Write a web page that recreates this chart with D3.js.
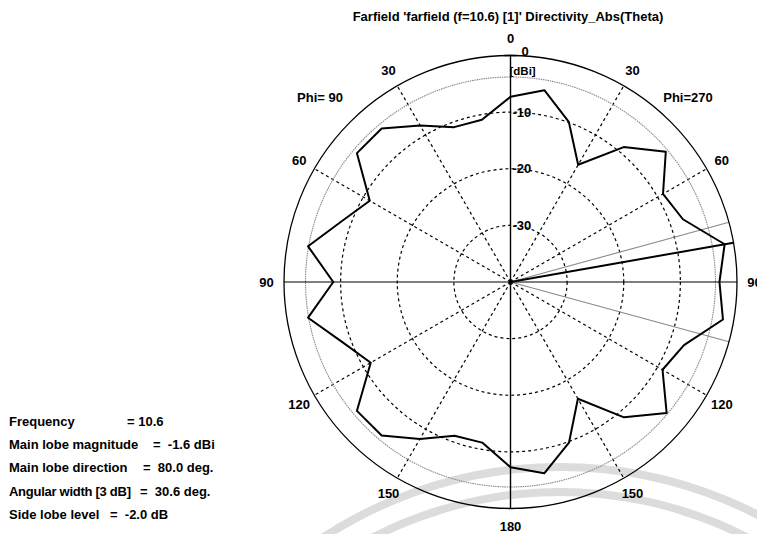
<!DOCTYPE html>
<html>
<head>
<meta charset="utf-8">
<script src="https://cdn.jsdelivr.net/npm/d3@7"></script>
<style>
    body { margin: 0; background: #fff; }
    svg { display: block; }
    text { font-family: "Liberation Sans", Arial, sans-serif; font-weight: bold; fill: #000; }
</style>
</head>
<body>
<svg id="farfield-plot" width="757" height="534"></svg>
<script>
// Data
const titleText = "Farfield 'farfield (f=10.6) [1]' Directivity_Abs(Theta)";
const thetaDeg = [0, 10, 20, 30, 40, 50, 60, 70, 80, 90, 100, 110, 120, 130, 140, 150, 160, 170, 180];
// Phi=270 cut, drawn on the right half
const phi270 = [-7.3, -5.6, -9.9, -16.1, -8.9, -4.2, -8.9, -7.6, -1.6, -3.1, -1.9, -7.4, -9.0, -4.0, -8.8, -16.2, -9.8, -5.7, -7.3];
// Phi=90 cut, drawn on the left half
const phi90 = [-7.3, -10.9, -10.9, -8.1, -4.6, -4.6, -11.3, -8.4, -3.7, -8.7, -3.7, -8.6, -11.5, -4.6, -4.6, -8.0, -11.1, -11.2, -7.3];
const radialTicks = [-10, -20, -30];
const angleTicks = [0, 30, 60, 90, 120, 150, 180];
const mainLobeDir = 80;
const beamEdges = [74.7, 105.3];
const beamLevel = -3.8;
const infoLabels = ["Frequency", "Main lobe magnitude", "Main lobe direction", "Angular width [3 dB]", "Side lobe level"];
const infoValues = ["= 10.6", "=  -1.6 dBi", "=  80.0 deg.", "=  30.6 deg.", "=  -2.0 dB"];

const cx = 510.5, cy = 282, R = 226.5;
const rad = Math.PI / 180;

var svg = d3.select('#farfield-plot');

//Faint watermark rings behind everything
var mark = svg.append("g").attr("transform", "translate(560,900)");
[[429, 437], [404, 412]].forEach(function(b) {
    mark.append("path")
        .attr("d", d3.arc().innerRadius(b[0]).outerRadius(b[1]).startAngle(0).endAngle(2 * Math.PI)())
        .attr("fill", "#dcdcdc");
});

//Radial scale: 0 dB on the outer circle, -40 dB at the centre
var r = d3.scaleLinear().domain([-40, 0]).range([0, R]);

var plot = svg.append("g").attr("transform", "translate(" + cx + "," + cy + ")");

//Dashed level circles
plot.selectAll("circle.grid")
    .data(radialTicks)
    .enter().append("circle")
    .attr("class", "grid")
    .attr("r", function(d) { return r(d); })
    .attr("fill", "none")
    .attr("stroke", "#000")
    .attr("stroke-width", 1.2)
    .attr("stroke-dasharray", "3,3");

//Dashed spokes every 30 deg (not the axes)
var spokes = [];
[30, 60, 120, 150].forEach(function(a) { spokes.push(a); spokes.push(-a); });
plot.selectAll("line.spoke")
    .data(spokes)
    .enter().append("line")
    .attr("class", "spoke")
    .attr("x1", 0).attr("y1", 0)
    .attr("x2", function(d) { return r(0) * Math.sin(d * rad); })
    .attr("y2", function(d) { return -r(0) * Math.cos(d * rad); })
    .attr("stroke", "#000")
    .attr("stroke-width", 1.2)
    .attr("stroke-dasharray", "3,3");

//3 dB level circle and beam width lines in grey
plot.append("circle")
    .attr("r", r(beamLevel))
    .attr("fill", "none")
    .attr("stroke", "#8a8a8a")
    .attr("stroke-width", 1.1)
    .attr("stroke-dasharray", "1.5,0.8");
plot.selectAll("line.beam")
    .data(beamEdges)
    .enter().append("line")
    .attr("class", "beam")
    .attr("x1", 0).attr("y1", 0)
    .attr("x2", function(d) { return r(0) * Math.sin(d * rad); })
    .attr("y2", function(d) { return -r(0) * Math.cos(d * rad); })
    .attr("stroke", "#8a8a8a")
    .attr("stroke-width", 1.1);

//Outer circle and axes
plot.append("circle")
    .attr("r", r(0))
    .attr("fill", "none")
    .attr("stroke", "#000")
    .attr("stroke-width", 1.3);
plot.append("line")
    .attr("x1", 0).attr("y1", -r(0)).attr("x2", 0).attr("y2", r(0))
    .attr("stroke", "#000").attr("stroke-width", 1.4);
plot.append("line")
    .attr("x1", -r(0)).attr("y1", 0).attr("x2", r(0)).attr("y2", 0)
    .attr("stroke", "#000").attr("stroke-width", 1.2);
plot.append("line")
    .attr("x1", -6).attr("y1", -r(0)).attr("x2", 6).attr("y2", -r(0))
    .attr("stroke", "#000").attr("stroke-width", 1.5);

//Main lobe direction
plot.append("line")
    .attr("x1", 0).attr("y1", 0)
    .attr("x2", r(0) * Math.sin(mainLobeDir * rad))
    .attr("y2", -r(0) * Math.cos(mainLobeDir * rad))
    .attr("stroke", "#000")
    .attr("stroke-width", 2);

//Directivity curves
var right = d3.lineRadial()
    .angle(function(d, i) { return thetaDeg[i] * rad; })
    .radius(function(d) { return r(d); });
var left = d3.lineRadial()
    .angle(function(d, i) { return -thetaDeg[i] * rad; })
    .radius(function(d) { return r(d); });
[[phi270, right], [phi90, left]].forEach(function(s) {
    plot.append("path")
        .attr("d", s[1](s[0]))
        .attr("fill", "none")
        .attr("stroke", "#000")
        .attr("stroke-width", 2)
        .attr("stroke-linejoin", "round");
});

//Angle labels on both halves
var angLabels = [];
angleTicks.forEach(function(a) {
    angLabels.push(a);
    if (a > 0 && a < 180) angLabels.push(-a);
});
plot.selectAll("text.ang")
    .data(angLabels)
    .enter().append("text")
    .attr("class", "ang")
    .attr("x", function(d) { return 244 * Math.sin(d * rad); })
    .attr("y", function(d) { return -244 * Math.cos(d * rad); })
    .attr("dy", "0.35em")
    .attr("text-anchor", "middle")
    .attr("font-size", 13)
    .text(function(d) { return Math.abs(d); });

//Radial level labels
plot.selectAll("text.lvl")
    .data([0].concat(radialTicks))
    .enter().append("text")
    .attr("class", "lvl")
    .attr("x", function(d) { return d == 0 ? 11 : 2; })
    .attr("y", function(d) { return -r(d) + (d == 0 ? -4 : 0); })
    .attr("dy", "0.35em")
    .attr("font-size", 13)
    .text(function(d) { return d; });
plot.append("text")
    .attr("x", -1).attr("y", -r(0) + 19)
    .attr("font-size", 11.5)
    .text("[dBi]");

//Cut names
svg.append("text").attr("x", 320).attr("y", 102).attr("text-anchor", "middle")
    .attr("font-size", 13).text("Phi= 90");
svg.append("text").attr("x", 688).attr("y", 102).attr("text-anchor", "middle")
    .attr("font-size", 13).text("Phi=270");

//Title
svg.append("text")
    .attr("x", 508).attr("y", 21)
    .attr("text-anchor", "middle")
    .attr("font-size", 13)
    .text(titleText);

//Result summary, bottom left
var valueX = [127, 153, 143, 140, 110];
var info = svg.append("g");
infoLabels.forEach(function(t, i) {
    var y = 421 + i * 23.4;
    info.append("text").attr("x", 9).attr("y", y).attr("dy", "0.35em")
        .attr("font-size", 13).attr("textLength", i == 3 ? 122 : null).text(t);
    info.append("text").attr("x", valueX[i]).attr("y", y).attr("dy", "0.35em")
        .attr("font-size", 13).style("white-space", "pre").text(infoValues[i]);
});
</script>
</body>
</html>
